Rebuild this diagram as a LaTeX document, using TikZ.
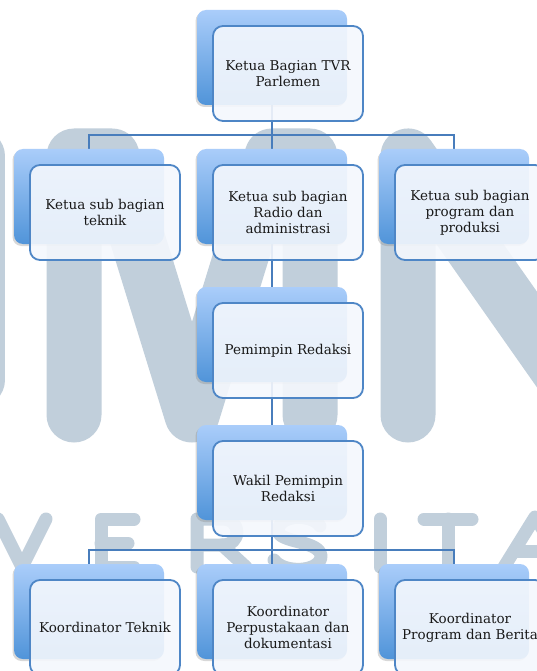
\documentclass[tikz,border=0pt]{standalone}
\usepackage{fontspec}
\setmainfont{DejaVu Serif}
\usetikzlibrary{shadows}
\pgfdeclarelayer{watermark}
\pgfdeclarelayer{links}
\pgfsetlayers{watermark,links,main}
\definecolor{boxtop}{RGB}{170,205,250}
\definecolor{boxbot}{RGB}{80,148,217}
\definecolor{boxline}{RGB}{78,134,198}
\definecolor{linkblue}{RGB}{72,125,188}
\definecolor{wmgray}{RGB}{193,207,219}
\definecolor{frontfill}{RGB}{245,248,253}

\begin{document}
\begin{tikzpicture}[x=1pt, y=-1pt,
  every node/.style={font=\fontsize{13.5}{16}\selectfont, text=black!90},
  backbox/.style={minimum width=150pt, minimum height=95pt, rounded corners=9pt,
    top color=boxtop, bottom color=boxbot, draw=none,
    drop shadow={shadow xshift=-1.5pt, shadow yshift=-2pt, opacity=0.3}},
  frontbox/.style={minimum width=150pt, minimum height=95pt, rounded corners=10pt,
    draw=boxline, line width=1.8pt, fill=frontfill, fill opacity=0.9,
    text opacity=1, align=center},
  link/.style={draw=linkblue, line width=1.8pt},
  wmbig/.style={draw=wmgray, line width=55pt, line cap=round, line join=round},
  wmsmall/.style={draw=wmgray, line width=13pt, line cap=round, line join=round}]
  \useasboundingbox (0,0) rectangle (537,671);

  \begin{pgfonlayer}{watermark}
    \fill[white] (0,0) rectangle (537,671);
    % Big letters behind the chart
    \draw[wmbig] (-23,156) -- (-23,380);
    \draw[wmbig] (74,415) -- (74,156) -- (112,156) -- (192,415) -- (272,156) -- (310,156) -- (310,415);
    \draw[wmbig] (408,415) -- (408,156) -- (590,415) -- (590,156);
    % Second row of letters
    \draw[wmsmall] (-2,519) -- (22,567) -- (46,519);
    \draw[wmsmall] (134,519) -- (101,519) -- (101,567) -- (134,567);
    \draw[wmsmall] (101,543) -- (128,543);
    \draw[wmsmall] (197,567) -- (197,519) -- (222,519)
      .. controls (242,519) and (242,545) .. (222,545) -- (197,545);
    \draw[wmsmall] (222,545) -- (246,567);
    \draw[wmsmall] (320,526)
      .. controls (312,514) and (280,514) .. (278,530)
      .. controls (277,543) and (320,540) .. (321,556)
      .. controls (321,572) and (284,574) .. (274,560);
    \draw[wmsmall] (380,519) -- (380,567);
    \draw[wmsmall] (424,519) -- (472,519);
    \draw[wmsmall] (448,519) -- (448,567);
    \draw[wmsmall] (504,567) -- (535,517) -- (566,567);
    \draw[wmsmall] (517,551) -- (553,551);
  \end{pgfonlayer}

  % Blue boxes at the back
  \foreach \name/\x/\y in {top/272/57.5, subA/89/196.5, subB/272/196.5, subC/454/196.5,
      pemred/272/334.5, wakil/272/472.5, korA/89/611.5, korB/272/611.5, korC/454/611.5} {
    \node[backbox] (\name) at (\x,\y) {};
  }
  % White boxes with the texts
  \foreach \name/\txt in {top/{Ketua Bagian TVR\\Parlemen},
      subA/{Ketua sub bagian\\teknik},
      subB/{Ketua sub bagian\\Radio dan\\administrasi},
      subC/{Ketua sub bagian\\program dan\\produksi},
      pemred/{Pemimpin Redaksi},
      wakil/{Wakil Pemimpin\\Redaksi},
      korA/{Koordinator Teknik},
      korB/{Koordinator\\Perpustakaan dan\\dokumentasi},
      korC/{Koordinator\\Program dan Berita}} {
    \node[frontbox] (\name-f) at ([shift={(16,16)}]\name.center) {\txt};
  }

  \begin{pgfonlayer}{links}
    % Connectors
    \draw[link] (top.south) -- (subB.north);
    \draw[link] (subA.north) -- ++(0,-14) -| (subC.north);
    \draw[link] (subB.south) -- (pemred.north);
    \draw[link] (pemred.south) -- (wakil.north);
    \draw[link] (wakil.south) -- (korB.north);
    \draw[link] (korA.north) -- ++(0,-14) -| (korC.north);
  \end{pgfonlayer}
\end{tikzpicture}
\end{document}
